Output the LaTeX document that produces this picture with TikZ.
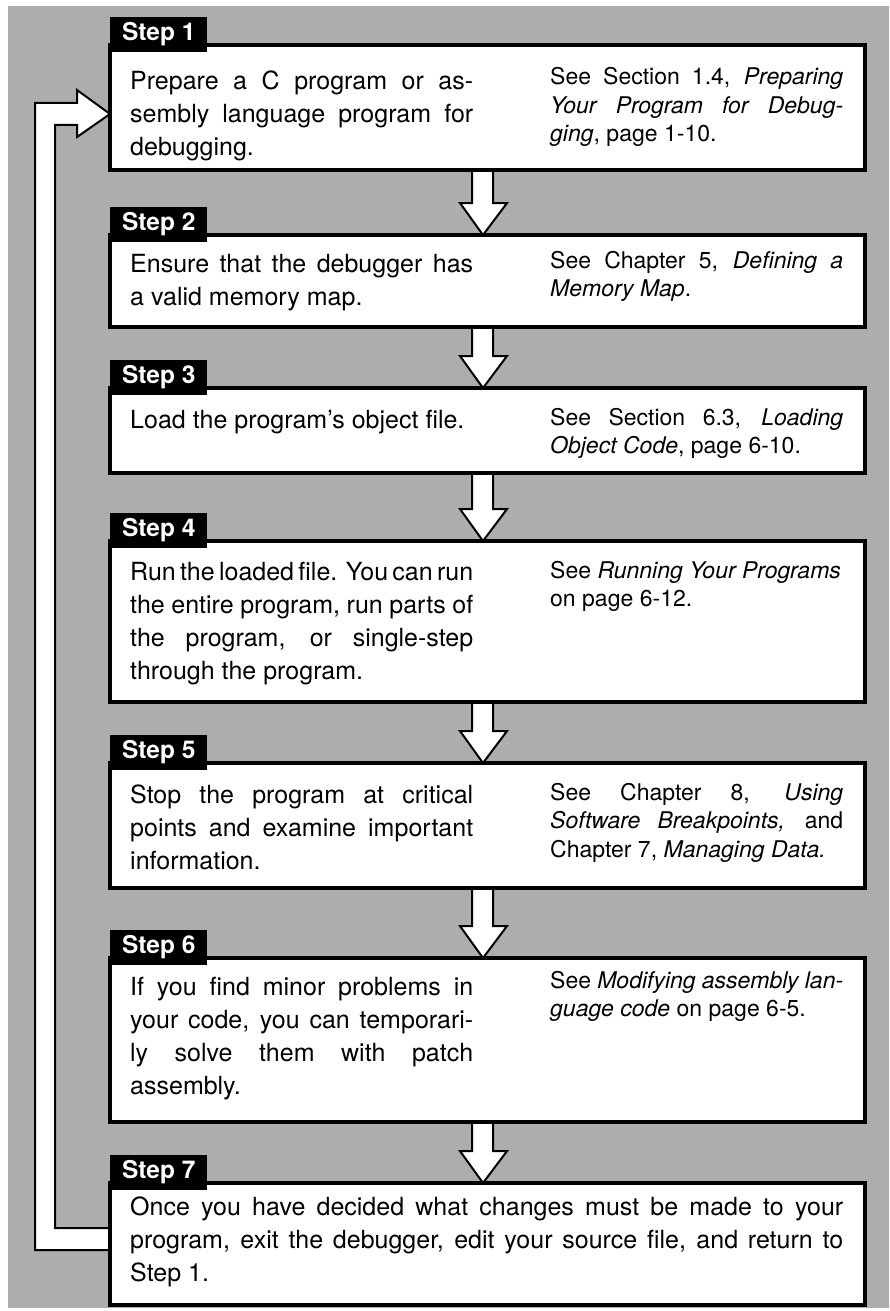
\documentclass[tikz,border=0pt]{standalone}
\usepackage{fontspec}
\setmainfont{TeX Gyre Heros}
\usetikzlibrary{calc}
\pgfdeclarelayer{bgl}
\pgfdeclarelayer{arr}
\pgfsetlayers{bgl,arr,main}
\begin{document}
\hyphenpenalty=10000 \exhyphenpenalty=10000 \tolerance=10000 \hbadness=10000
\begin{tikzpicture}[x=1pt,y=-1pt,
  stepbox/.style={draw, line width=3.5pt, fill=white, minimum width=755pt, anchor=north west, inner sep=0pt, outer sep=0pt},
  steplabel/.style={fill=black, text=white, font={\fontsize{24.5}{29}\selectfont\bfseries}, minimum width=97pt, minimum height=35pt, inner sep=0pt, anchor=south west},
  lefttext/.style={inner sep=0pt, anchor=base west, text width=343pt, align=justify, font={\fontsize{25}{33}\selectfont\spaceskip=.28em plus .9em minus .22em\relax}},
  widetext/.style={lefttext, text width=713pt},
  righttext/.style={inner sep=0pt, anchor=base west, text width=293pt, align=justify, font={\fontsize{23}{28.5}\selectfont\spaceskip=.28em plus 1em minus .2em\relax}},
  hollow/.style={draw=black, fill=white, line width=2pt, line join=miter},
  bggray/.style={fill=black!32}]
\useasboundingbox (0,0) rectangle (889,1311);
\begin{pgfonlayer}{bgl}
\fill[bggray] (8,6) rectangle (889,1308);
\end{pgfonlayer}

% boxes
\node[stepbox, minimum height=125pt] (s1) at (110,45) {};
\node[stepbox, minimum height=92pt]  (s2) at (110,235) {};
\node[stepbox, minimum height=85pt]  (s3) at (110,388) {};
\node[stepbox, minimum height=161pt] (s4) at (110,541) {};
\node[stepbox, minimum height=125pt] (s5) at (110,763) {};
\node[stepbox, minimum height=164pt] (s6) at (110,958) {};
\node[stepbox, minimum height=122pt] (s7) at (110,1183) {};

% labels
\foreach \i in {1,...,7}{
  \node[steplabel] (l\i) at ([yshift=-7pt]s\i.north west) {Step \i};
}

% texts
\node[lefttext] (t1a) at (130,90) {Prepare a C program or as-\linebreak sembly language program for\linebreak debugging.};
\node[righttext] (t1b) at (550,85) {See Section 1.4, \textit{Preparing}\linebreak \textit{Your Program for Debug-}\linebreak \textit{ging}, page 1-10.};

\node[lefttext] (t2a) at (130,272) {Ensure that the debugger has\linebreak a valid memory map.};
\node[righttext] (t2b) at (550,268) {See Chapter 5, \textit{Defining a}\linebreak \textit{Memory Map}.};

\node[lefttext] (t3a) at (130,428) {Load the program's object file.};
\node[righttext] (t3b) at (550,425) {See Section 6.3, \textit{Loading}\linebreak \textit{Object Code}, page 6-10.};

\node[lefttext] (t4a) at (130,580) {Run the loaded file. You can run\linebreak the entire program, run parts of\linebreak the program, or single-step\linebreak through the program.};
\node[righttext] (t4b) at (550,578) {See \textit{Running Your Programs}\\ on page 6-12.};

\node[lefttext] (t5a) at (130,803) {Stop the program at critical\linebreak points and examine important\linebreak information.};
\node[righttext] (t5b) at (550,800) {See Chapter 8, \textit{Using}\linebreak \textit{Software Breakpoints,} and\linebreak Chapter 7, \textit{Managing Data.}};

\node[lefttext] (t6a) at (130,995) {If you find minor problems in\linebreak your code, you can temporari-\linebreak ly solve them with patch\linebreak assembly.};
\node[righttext] (t6b) at (550,988) {See \textit{Modifying assembly lan-}\linebreak \textit{guage code} on page 6-5.};

\node[widetext] (t7a) at (130,1215) {Once you have decided what changes must be made to your\linebreak program, exit the debugger, edit your source file, and return to\linebreak Step 1.};

% arrow guide coordinates
\coordinate (sL) at (472,0);
\coordinate (sR) at (493,0);
\coordinate (aL) at (460,0);
\coordinate (aR) at (507,0);
\coordinate (aM) at (483,0);

\begin{pgfonlayer}{arr}
\foreach \a/\b in {s1/s2,s2/s3,s3/s4,s4/s5,s5/s6,s6/s7}{
  \draw[hollow] (\a.south -| sL) -- ($(\b.north -| sL)+(0,-32)$) -- ($(\b.north -| aL)+(0,-32)$)
    -- (\b.north -| aM) -- ($(\b.north -| aR)+(0,-32)$) -- ($(\b.north -| sR)+(0,-32)$) -- (\a.south -| sR);
}
% loop back arrow
\coordinate (lin) at (55,0);
\coordinate (lout) at (35,0);
\coordinate (hb) at (77,0);
\coordinate (e1) at ([yshift=16pt]s7.west);
\coordinate (e2) at ([yshift=-6pt]s7.west);
\coordinate (b1) at ([yshift=-17.5pt]s1.west);
\coordinate (b2) at ([yshift=4.5pt]s1.west);
\coordinate (h1) at ([yshift=-29.5pt]s1.west);
\coordinate (h2) at ([yshift=17.5pt]s1.west);
\coordinate (tip) at ([yshift=-6.5pt]s1.west);
\draw[hollow] (e1) -- (e1 -| lin) -- (b1 -| lin) -- (b1 -| hb) -- (h1 -| hb) -- (tip)
  -- (h2 -| hb) -- (b2 -| hb) -- (b2 -| lout) -- (e2 -| lout) -- (e2);
\end{pgfonlayer}
\end{tikzpicture}
\end{document}
